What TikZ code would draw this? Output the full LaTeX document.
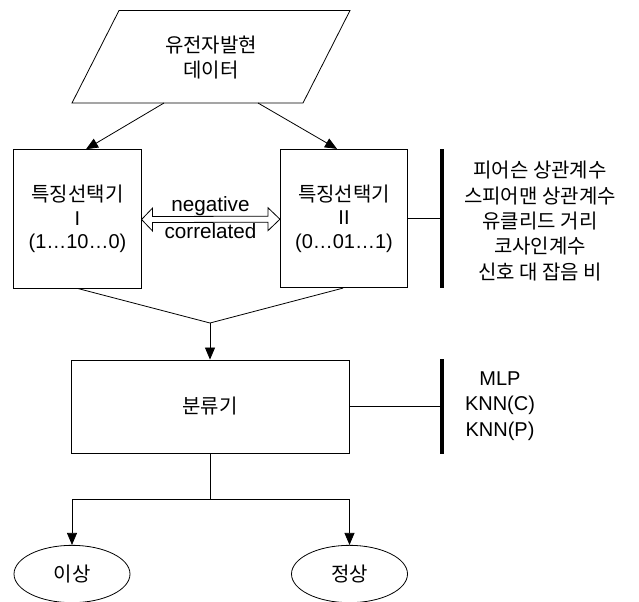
\documentclass[tikz,border=0pt]{standalone}
\usepackage{fontspec}
\setmainfont{Liberation Sans}
\newfontfamily\kr{Noto Sans CJK KR}
\usetikzlibrary{arrows.meta,shapes.geometric,calc}
\begin{document}
\begin{tikzpicture}[x=0.75pt,y=-0.75pt,line width=0.6pt,
  txt/.style={font=\fontsize{15pt}{19pt}\selectfont, align=center, inner sep=0pt},
  boxtxt/.style={font=\fontsize{15pt}{17.5pt}\selectfont, align=center, inner sep=0pt},
  fsbox/.style={draw, rectangle, boxtxt, minimum width=95.5pt, minimum height=103.8pt},
  bar/.style={fill=black, rectangle, inner sep=0pt, minimum width=2.3pt},
  arr/.style={-{Triangle[length=9pt,width=7.5pt]}},
  oval/.style={draw, ellipse, inner sep=0pt, minimum width=87pt, minimum height=43pt, font=\kr\fontsize{15pt}{19pt}\selectfont}]
\useasboundingbox (0,0) rectangle (639,601);
\fill[white] (0,0) rectangle (639,601);
\clip (0,0) rectangle (639,601);

% input parallelogram
\coordinate (p1) at (72,103);
\coordinate (p2) at (303,103);
\coordinate (p3) at (350,10.5);
\coordinate (p4) at (119,10.5);
\draw (p1) -- (p2) -- (p3) -- (p4) -- cycle;
\node[txt, font=\kr\fontsize{15pt}{18.75pt}\selectfont] (data) at (211,57.5) {유전자발현\\데이터};
\coordinate (dL) at (164,103);
\coordinate (dR) at (258,103);

% feature selectors
\node[fsbox] (fs1) at (77.5,218.8) {{\kr 특징선택기}\\I\\(1…10…0)};
\node[fsbox] (fs2) at (344,218.5) {{\kr 특징선택기}\\II\\(0…01…1)};

\draw[arr] (dL) -- ($(fs1.north)+(8.5,0)$);
\draw[arr] (dR) -- ($(fs2.north)+(-7,0)$);

% hollow double arrow
\draw ($(fs1.east)+(0,0.7)$) -- ++(11,-11.5) -- ++(0,8.5) -- ($(fs2.west)+(-12,-2.3)$)
  -- ++(0,-8.5) -- ($(fs2.west)+(0,0.7)$) -- ++(-12,11.5) -- ++(0,-8.5)
  -- ($(fs1.east)+(11,3.7)$) -- ++(0,8.5) -- cycle;
\node[txt, font=\fontsize{15.5pt}{19pt}\selectfont] (neg) at (210.5,206) {negative};
\node[txt, font=\fontsize{15.5pt}{19pt}\selectfont] (cor) at (210.5,231.5) {correlated};

% measures bar
\node[bar, minimum height=104.3pt] (bar1) at (442,218.5) {};
\draw (fs2.east) -- (fs2.east -| bar1.west);
\node[txt, font=\kr\fontsize{15pt}{19.1pt}\selectfont] (meas) at (540,221)
  {피어슨 상관계수\\스피어맨 상관계수\\유클리드 거리\\코사인계수\\신호 대 잡음 비};

% classifier
\coordinate (m) at (210,323);
\node[draw, rectangle, minimum width=208.5pt, minimum height=69.8pt, font=\kr\fontsize{15pt}{19pt}\selectfont] (clf) at (210,406.5) {분류기};
\draw (fs1.south) -- (m);
\draw ($(fs2.south)+(-1,0)$) -- (m);
\draw[arr] (m) -- (clf.north);

\node[bar, minimum height=71.3pt] (bar2) at (442,406.5) {};
\draw (clf.east) -- (clf.east -| bar2.west);
\node[txt, font=\fontsize{15pt}{19.1pt}\selectfont] (cls) at (500,406) {MLP\\KNN(C)\\KNN(P)};

% outputs
\node[oval] (e1) at (72,574) {이상};
\node[oval] (e2) at (349.5,574) {정상};
\coordinate (split) at (210,499);
\draw (clf.south) -- (split);
\draw[arr] (split) -| (e1.north);
\draw[arr] (split) -| (e2.north);
\end{tikzpicture}
\end{document}
